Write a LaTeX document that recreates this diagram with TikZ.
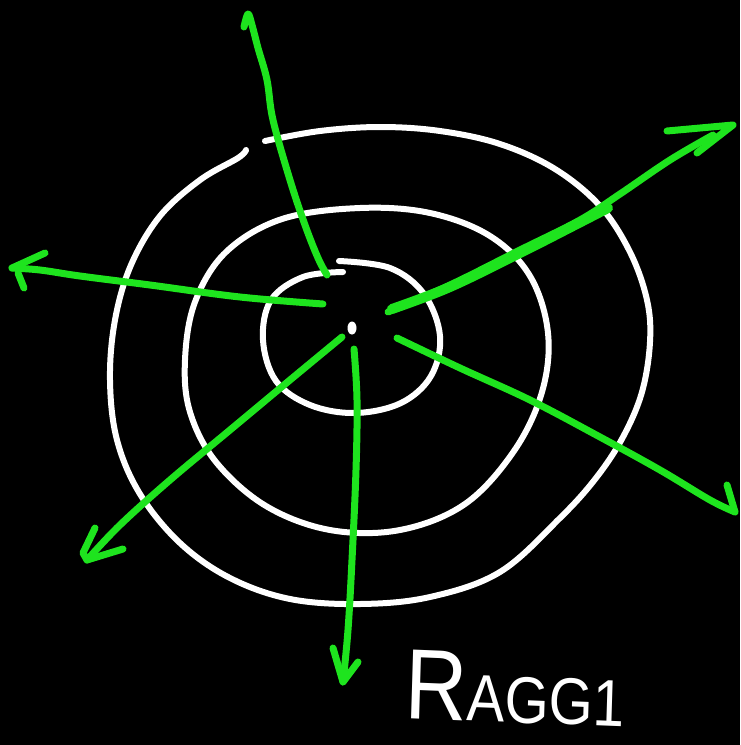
\documentclass[tikz,border=0pt]{standalone}
\usepackage{fontspec}
\setmainfont{Liberation Sans}
\definecolor{sketchgreen}{RGB}{30,228,30}
\begin{document}
\begin{tikzpicture}[x=1pt,y=-1pt,
  chalk/.style={draw=white, line width=6pt, line cap=round, line join=round},
  pen/.style={draw=sketchgreen, line width=7pt, line cap=round, line join=round},
  label/.style={text=white, font=\fontsize{66}{70}\selectfont, inner sep=0pt, xscale=0.86, rotate=-2}]
\fill[black] (0,0) rectangle (740,745);
\useasboundingbox (0,0) rectangle (740,745);

% centre dot
\fill[white] (352,328) ellipse (4.5 and 6.5);

% outer loop (with a gap at top left)
\draw[chalk] plot[smooth, tension=0.6] coordinates {(265,141) (320,131) (380,127) (440,131) (500,144) (555,169) (600,206) (630,252) (647,300) (650,342) (642,392) (623,437) (596,478) (560,518) (500,572) (430,597) (360,604) (290,599) (230,578) (180,543) (140,494) (117,440) (110,380) (115,320) (131,265) (160,216) (200,180) (238,158) (246,150)};

% middle loop
\draw[chalk] plot[smooth cycle, tension=0.6] coordinates {(360,208) (430,213) (490,236) (530,276) (548,333) (542,392) (514,451) (465,504) (400,530) (330,530) (266,506) (216,462) (190,412) (185,360) (195,302) (226,252) (282,219)};

% inner loop (small jog at the top)
\draw[chalk] plot[smooth, tension=0.6] coordinates {(339,261) (390,268) (424,294) (440,336) (431,376) (401,403) (355,413) (310,405) (276,381) (263,340) (271,300) (303,277) (343,272)};

% arrow end points
\coordinate (upS) at (327,275);   \coordinate (upT) at (248,14);
\coordinate (lfS) at (323,304);   \coordinate (lfT) at (12,268);
\coordinate (urS) at (388,312);   \coordinate (urT) at (733,125);
\coordinate (lrS) at (397,338);   \coordinate (lrT) at (735,512);
\coordinate (dnS) at (354,349);   \coordinate (dnT) at (343,682);
\coordinate (llS) at (342,337);   \coordinate (llT) at (87,560);

% up
\draw[pen] plot[smooth, tension=0.6] coordinates {(upS) (318,258) (305,225) (290,180) (273,120) (267,80) (258,48) (252,25) (upT) (244,27)};
% left
\draw[pen] plot[smooth, tension=0.6] coordinates {(lfS) (240,297) (150,285) (80,276) (40,270) (lfT)};
\draw[pen] (lfT) -- (45,253);
\draw[pen] (18,273) -- (24,288);
% upper right
\draw[pen] plot[smooth, tension=0.6] coordinates {(urS) (450,285) (520,250) (580,220) (620,194) (670,160) (713,135)};
\draw[pen, line width=10pt] plot[smooth, tension=0.6] coordinates {(392,309) (450,287) (520,253) (575,225) (608,208)};
\draw[pen] (667,131) -- (urT) -- (697,153);
% lower right
\draw[pen] plot[smooth, tension=0.6] coordinates {(lrS) (460,368) (530,400) (600,437) (660,470) (710,500) (lrT)};
\draw[pen] (lrT) -- (727,485);
% down
\draw[pen] plot[smooth, tension=0.6] coordinates {(dnS) (357,400) (356,470) (352,560) (348,630) (dnT)};
\draw[pen] (333,648) -- (dnT) -- (358,662);
% lower left
\draw[pen] plot[smooth, tension=0.6] coordinates {(llS) (290,380) (230,430) (170,480) (120,525) (llT)};
\draw[pen] (95,528) -- (83,553) -- (llT) -- (123,549);

% label
\node[label, anchor=base west] (lbl) at (404,718) {{\fontsize{100}{100}\selectfont R}AGG1};
\end{tikzpicture}
\end{document}
